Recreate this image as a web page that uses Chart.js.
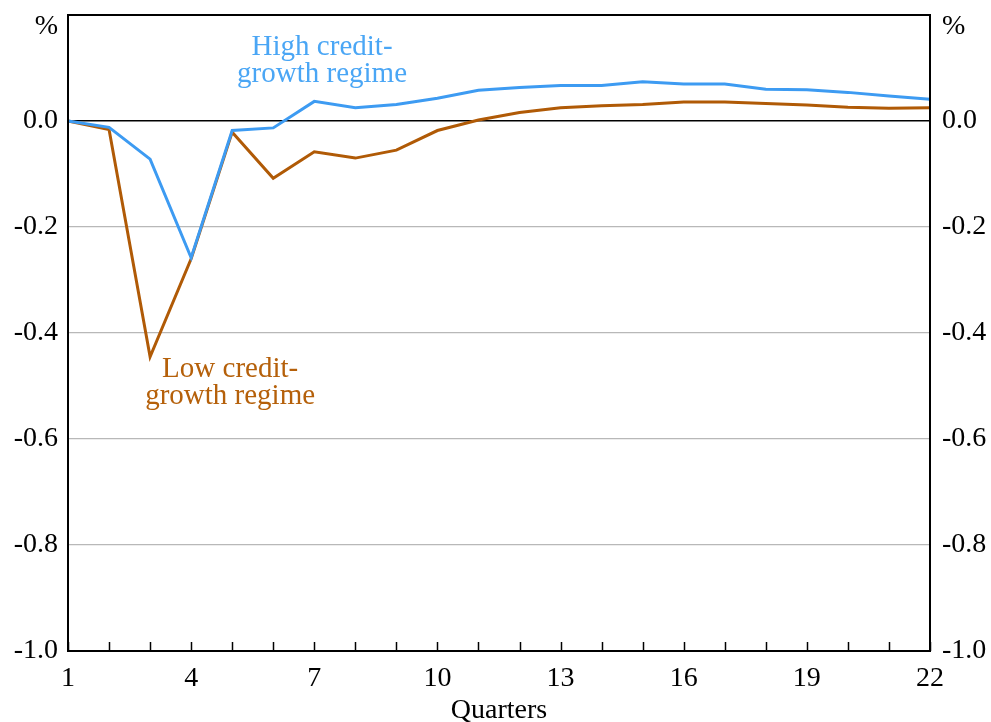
<!DOCTYPE html>
<html>
<head>
<meta charset="utf-8">
<script src="https://cdn.jsdelivr.net/npm/chart.js@4"></script>
<style>
  html, body { margin: 0; padding: 0; background: #fff; }
  #wrap { width: 991px; height: 722px; }
</style>
</head>
<body>
<div id="wrap"><canvas id="chart" width="991" height="722"></canvas></div>
<script>
// quarters after the shock
const quarters = ['1','2','3','4','5','6','7','8','9','10','11','12','13','14','15','16','17','18','19','20','21','22'];
const highCredit = [0, -0.012, -0.072, -0.258, -0.018, -0.013, 0.037, 0.025, 0.031, 0.043, 0.058, 0.063, 0.067, 0.067, 0.074, 0.070, 0.070, 0.060, 0.059, 0.054, 0.047, 0.041];
const lowCredit = [0, -0.016, -0.445, -0.260, -0.021, -0.108, -0.058, -0.070, -0.055, -0.018, 0.002, 0.016, 0.025, 0.029, 0.031, 0.036, 0.036, 0.033, 0.030, 0.026, 0.024, 0.025];
const yTicks = [-1.0, -0.8, -0.6, -0.4, -0.2, 0.0];

const blue = '#3d9bf2';
const orange = '#b05a06';
const font = 'Liberation Serif';

// inner tick marks, frame, % labels and the two regime labels
const extras = {
    id: 'extras',
    afterDraw(chart) {
        const ctx = chart.ctx;
        const a = chart.chartArea;
        const x = chart.scales.x;
        const y = chart.scales.y;
        ctx.save();
        ctx.strokeStyle = '#000';
        ctx.lineWidth = 1.5;
        quarters.forEach((q, i) => {
            const px = Math.round(x.getPixelForValue(i)) + 0.5;
            ctx.beginPath();
            ctx.moveTo(px, a.bottom);
            ctx.lineTo(px, a.bottom - 9);
            ctx.stroke();
        });
        ctx.lineWidth = 2;
        ctx.strokeRect(a.left, a.top, a.right - a.left, a.bottom - a.top);

        ctx.fillStyle = '#000';
        ctx.font = '28px "' + font + '"';
        ctx.textBaseline = 'middle';
        ctx.textAlign = 'right';
        ctx.fillText('%', a.left - 10, a.top + 12);
        ctx.textAlign = 'left';
        ctx.fillText('%', a.right + 12, a.top + 12);

        ctx.font = '29px "' + font + '"';
        ctx.textAlign = 'center';
        ctx.fillStyle = '#4aa6f5';
        let cx = x.getPixelForValue(6.19);
        ctx.fillText('High credit-', cx, y.getPixelForValue(0.143) + 2);
        ctx.fillText('growth regime', cx, y.getPixelForValue(0.091) + 2);
        ctx.fillStyle = '#b5600a';
        cx = x.getPixelForValue(3.95);
        ctx.fillText('Low credit-', cx, y.getPixelForValue(-0.464) + 2);
        ctx.fillText('growth regime', cx, y.getPixelForValue(-0.515) + 2);
        ctx.restore();
    }
};

const ctx = document.getElementById('chart').getContext('2d');

new Chart(ctx, {
    type: 'line',
    data: {
        labels: quarters,
        datasets: [{
            label: 'High credit-growth regime',
            data: highCredit,
            borderColor: blue,
            borderWidth: 3,
            pointRadius: 0,
            tension: 0
        }, {
            label: 'Low credit-growth regime',
            data: lowCredit,
            borderColor: orange,
            borderWidth: 3,
            pointRadius: 0,
            tension: 0
        }]
    },
    options: {
        responsive: false,
        animation: false,
        layout: { padding: { top: 15, left: 0, right: 0, bottom: 0 } },
        plugins: {
            legend: { display: false },
            tooltip: { enabled: false }
        },
        scales: {
            x: {
                offset: false,
                grid: { display: false },
                border: { display: false },
                ticks: {
                    autoSkip: false,
                    maxRotation: 0,
                    padding: 3,
                    color: '#000',
                    font: { family: font, size: 28 },
                    callback: (v, i) => (i % 3 === 0 ? quarters[i] : '')
                },
                title: {
                    display: true,
                    text: 'Quarters',
                    color: '#000',
                    padding: { top: 0, bottom: -5 },
                    font: { family: font, size: 28 }
                },
                afterFit: s => { s.height = 71; s.paddingLeft = 0; s.paddingRight = 0; }
            },
            y: {
                position: 'left',
                min: -1.0,
                max: 0.2,
                afterBuildTicks: s => { s.ticks = yTicks.concat([0.2]).map(v => ({ value: v })); },
                grid: {
                    drawTicks: false,
                    color: c => (c.tick.value === 0 ? '#000' : (c.tick.value > 0.1 || c.tick.value < -0.9 ? 'rgba(0,0,0,0)' : '#b8b8b8')),
                    lineWidth: c => (c.tick.value === 0 ? 1.5 : 1.2)
                },
                border: { display: false },
                ticks: {
                    padding: 10,
                    color: '#000',
                    font: { family: font, size: 28 },
                    callback: v => (v > 0.1 ? '' : v.toFixed(1))
                },
                afterFit: s => { s.width = 68; s.paddingTop = 0; s.paddingBottom = 0; }
            },
            y2: {
                position: 'right',
                min: -1.0,
                max: 0.2,
                afterBuildTicks: s => { s.ticks = yTicks.concat([0.2]).map(v => ({ value: v })); },
                grid: { display: false, drawTicks: false },
                border: { display: false },
                ticks: {
                    padding: 12,
                    color: '#000',
                    font: { family: font, size: 28 },
                    callback: v => (v > 0.1 ? '' : v.toFixed(1))
                },
                afterFit: s => { s.width = 61; s.paddingTop = 0; s.paddingBottom = 0; }
            }
        }
    },
    plugins: [extras]
});
</script>
</body>
</html>
